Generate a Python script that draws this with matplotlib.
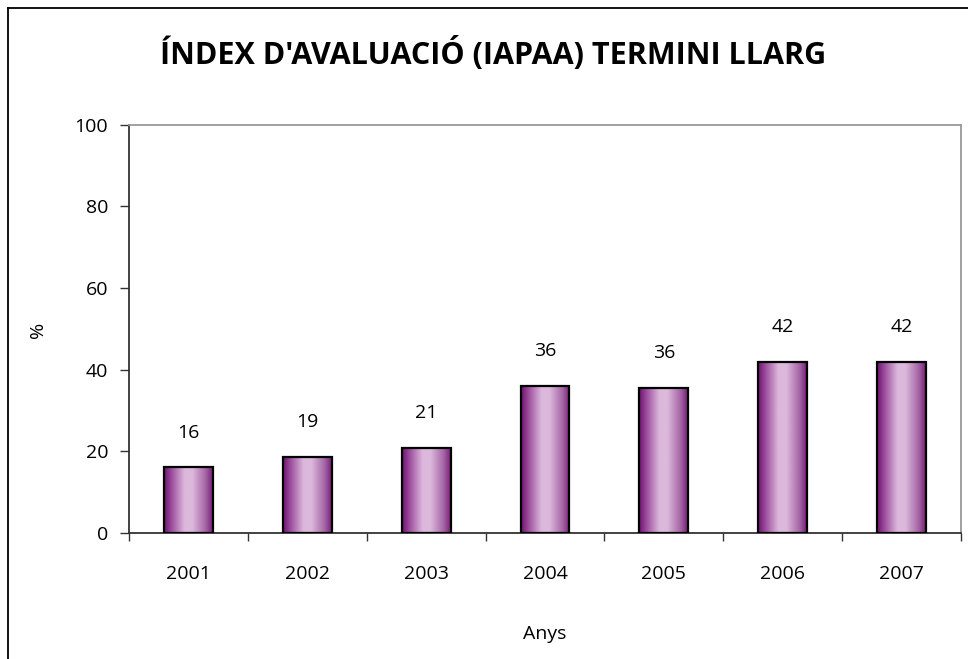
import numpy as np
import matplotlib
matplotlib.use('Agg')
import matplotlib.pyplot as plt
from matplotlib.colors import LinearSegmentedColormap
from matplotlib.lines import Line2D

# Dades
anys = ['2001', '2002', '2003', '2004', '2005', '2006', '2007']
valors = [16.1, 18.6, 20.9, 36.1, 35.6, 41.9, 41.9]

plt.rcParams['font.family'] = ['Open Sans', 'DejaVu Sans']

fig = plt.figure(figsize=(9.68, 6.59), dpi=100)
ax = fig.add_axes([129/968, 1 - 533/659, (961 - 129)/968, (533 - 124.5)/659])

x = np.arange(len(anys))
bars = ax.bar(x, valors, width=0.41, facecolor='none', edgecolor='black',
              linewidth=1.6, zorder=3)

# degradat horitzontal dins de cada barra
cmap = LinearSegmentedColormap.from_list('lila', [
    (0.0, '#6c126f'), (0.15, '#9c4c9c'), (0.42, '#dcb9dc'),
    (0.58, '#dcb9dc'), (0.85, '#a566a5'), (1.0, '#761c78')])
grad = np.linspace(0, 1, 256).reshape(1, -1)
for b in bars:
    x0, w, h = b.get_x(), b.get_width(), b.get_height()
    im = ax.imshow(grad, cmap=cmap, aspect='auto', extent=[x0, x0 + w, 0, h],
                   zorder=2, interpolation='bilinear')
    im.set_clip_path(b)

# etiquetes de valor
for xi, v in zip(x, valors):
    ax.annotate(f'{v:.0f}', (xi, v), xytext=(0, 25), textcoords='offset points',
                ha='center', va='center', fontsize=14)

ax.set_xlim(-0.5, len(anys) - 0.5)
ax.set_ylim(0, 100)
ax.set_yticks([0, 20, 40, 60, 80, 100])
ax.set_xticks(np.arange(len(anys) + 1) - 0.5)
ax.set_xticklabels([])
ax.set_xticks(x, minor=True)
ax.set_xticklabels(anys, minor=True)
ax.tick_params(axis='x', which='major', length=6, width=1, color='#333333')
ax.tick_params(axis='x', which='minor', length=0, pad=23, labelsize=14)
ax.tick_params(axis='y', length=6.5, width=1, color='#333333', pad=8.5, labelsize=14)

for s in ['left', 'bottom']:
    ax.spines[s].set_color('#333333')
    ax.spines[s].set_linewidth(1.3)
for s in ['top', 'right']:
    ax.spines[s].set_color('#999999')
    ax.spines[s].set_linewidth(1.3)

fig.text(493/968, 1 - 54/659, "ÍNDEX D'AVALUACIÓ (IAPAA) TERMINI LLARG",
         ha='center', va='center', fontsize=22, fontweight='bold')
fig.text(545/968, 1 - 634/659, 'Anys', ha='center', va='center', fontsize=14)
fig.text(38/968, 1 - 330/659, '%', ha='center', va='center', fontsize=14, rotation=90)

# marc exterior del gràfic
fig.add_artist(Line2D([8/968, 8/968], [0, 1 - 8/659], color='black', lw=1.3))
fig.add_artist(Line2D([8/968, 1], [1 - 8/659, 1 - 8/659], color='black', lw=1.3))

fig.savefig('out.png', dpi=100)
